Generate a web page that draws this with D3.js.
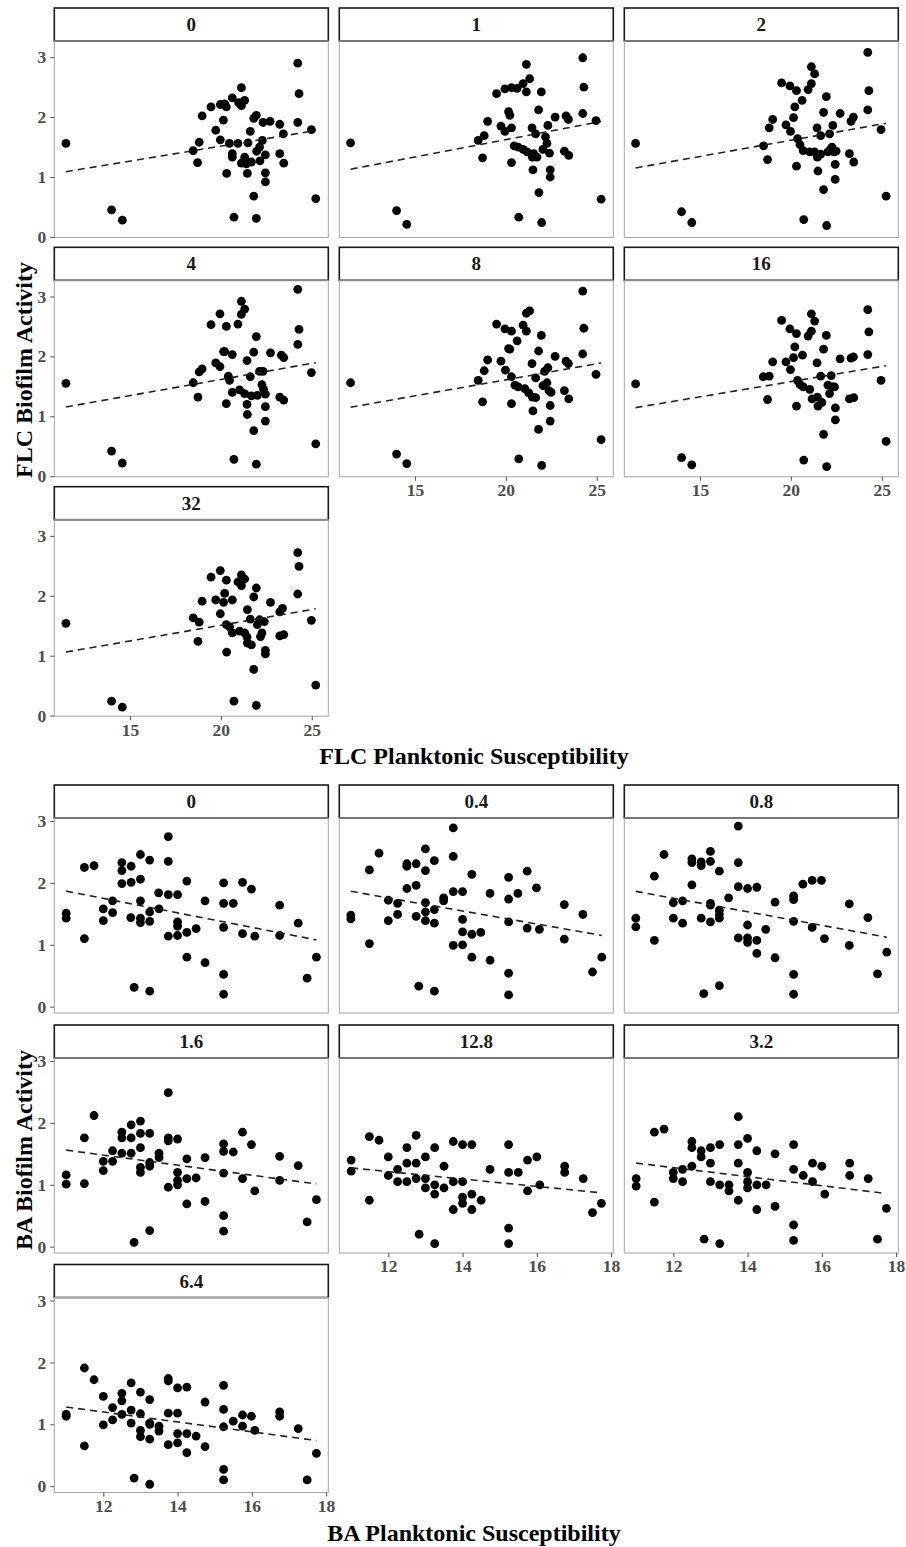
<!DOCTYPE html>
<html><head><meta charset="utf-8">
<script src="https://cdn.jsdelivr.net/npm/d3@7"></script>
<style>body{margin:0;background:#fff}svg{display:block}</style>
</head><body>
<script>
// ---------- DATA ----------
const flcLabels = ["0","1","2","4","8","16","32"];
const baLabels = ["0","0.4","0.8","1.6","12.8","3.2","6.4"];
const flcXTicks = [15,20,25];
const baXTicks = [12,14,16,18];
const yTicks = [0,1,2,3];

const flc_0 = [[11.48,1.56],[13.99,0.45],[14.58,0.28],[18.48,1.44],[18.72,1.24],[18.81,1.58],[18.97,2.02],[19.46,2.17],[19.72,1.78],[19.97,2.21],[19.97,1.62],[20.14,1.95],[20.21,2.22],[20.3,2.17],[20.32,1.06],[20.47,1.56],[20.63,2.32],[20.63,1.39],[20.63,1.33],[20.72,0.33],[20.94,1.56],[20.98,2.24],[21.13,2.49],[21.13,2.19],[21.13,1.23],[21.31,2.28],[21.31,1.33],[21.4,1.22],[21.46,1.06],[21.49,1.57],[21.62,1.76],[21.68,1.25],[21.81,0.68],[21.81,1.98],[21.95,2.03],[21.95,0.31],[21.97,1.43],[22.13,1.5],[22.15,1.27],[22.28,1.61],[22.32,1.91],[22.45,1.37],[22.45,1.07],[22.45,0.92],[22.71,1.93],[23.24,1.88],[23.24,1.39],[23.44,1.72],[23.46,1.23],[24.23,2.9],[24.3,2.39],[24.23,1.91],[24.98,1.79],[25.22,0.64]];
const flc_1 = [[11.46,1.57],[13.99,0.44],[14.55,0.21],[18.48,1.61],[18.72,1.32],[18.81,1.69],[19.0,1.93],[19.49,2.39],[19.73,1.85],[19.95,2.47],[19.95,1.76],[20.15,2.09],[20.22,2.03],[20.31,2.49],[20.31,1.82],[20.31,1.24],[20.46,1.52],[20.62,2.48],[20.68,1.5],[20.71,0.33],[20.95,2.56],[20.95,1.46],[21.13,2.88],[21.13,2.42],[21.17,1.42],[21.31,2.64],[21.44,1.82],[21.46,1.33],[21.49,1.12],[21.53,1.39],[21.64,1.72],[21.71,1.33],[21.8,2.12],[21.82,0.74],[21.95,2.42],[21.97,0.24],[22.04,1.46],[22.18,1.67],[22.26,1.56],[22.31,1.86],[22.4,1.4],[22.44,1.12],[22.44,1.0],[22.71,2.0],[23.22,1.43],[23.31,2.02],[23.44,1.96],[23.46,1.36],[24.23,2.99],[24.29,2.5],[24.23,2.06],[24.96,1.94],[25.24,0.63]];
const flc_2 = [[11.46,1.56],[13.99,0.42],[14.55,0.24],[18.5,1.52],[18.72,1.29],[18.81,1.82],[19.0,1.96],[19.49,2.57],[19.73,1.87],[19.95,2.52],[19.98,1.76],[20.15,1.99],[20.22,2.17],[20.31,2.44],[20.31,1.18],[20.37,1.64],[20.5,1.54],[20.62,2.28],[20.68,1.44],[20.71,0.29],[20.95,2.46],[21.04,1.42],[21.13,2.84],[21.13,2.56],[21.31,2.72],[21.31,1.42],[21.44,1.82],[21.46,1.33],[21.49,1.1],[21.64,1.69],[21.64,1.38],[21.8,2.08],[21.8,0.79],[21.95,2.34],[21.97,0.19],[22.04,1.42],[22.13,1.72],[22.18,1.46],[22.26,1.5],[22.31,1.86],[22.37,1.42],[22.44,1.21],[22.44,0.96],[22.49,1.43],[22.71,2.06],[23.22,1.39],[23.31,1.93],[23.44,2.0],[23.46,1.25],[24.23,3.08],[24.29,2.44],[24.23,2.12],[24.96,1.79],[25.24,0.68]];
const flc_4 = [[11.48,1.55],[13.99,0.42],[14.58,0.22],[18.48,1.56],[18.74,1.32],[18.81,1.74],[18.97,1.79],[19.46,2.53],[19.72,1.89],[19.95,2.71],[19.95,1.83],[20.15,2.08],[20.21,2.08],[20.3,2.5],[20.3,1.21],[20.41,1.67],[20.48,1.6],[20.63,2.03],[20.63,1.4],[20.72,0.28],[20.94,2.54],[21.03,1.44],[21.13,2.92],[21.13,2.7],[21.31,2.79],[21.31,1.38],[21.44,1.93],[21.44,1.2],[21.46,1.03],[21.62,1.66],[21.68,1.34],[21.81,2.07],[21.81,0.76],[21.95,2.33],[21.95,0.2],[22.01,1.35],[22.13,1.75],[22.26,1.53],[22.32,1.75],[22.35,1.45],[22.45,1.37],[22.45,1.16],[22.45,0.92],[22.73,2.06],[23.24,1.32],[23.33,2.02],[23.46,1.27],[23.46,1.98],[24.23,3.12],[24.3,2.45],[24.23,2.2],[24.98,1.73],[25.22,0.54]];
const flc_8 = [[11.46,1.56],[13.99,0.37],[14.55,0.21],[18.48,1.6],[18.72,1.24],[18.81,1.76],[19.0,1.94],[19.49,2.54],[19.73,1.92],[19.95,2.46],[19.98,1.77],[20.15,2.13],[20.22,2.12],[20.31,2.42],[20.31,1.21],[20.31,1.66],[20.5,1.52],[20.62,2.26],[20.68,1.49],[20.71,0.29],[20.95,2.52],[21.04,1.46],[21.13,2.72],[21.13,2.42],[21.31,2.76],[21.26,1.39],[21.44,1.88],[21.46,1.32],[21.49,1.09],[21.64,1.64],[21.64,1.31],[21.8,2.09],[21.8,0.78],[21.95,2.35],[21.97,0.18],[22.04,1.51],[22.13,1.75],[22.31,1.81],[22.26,1.56],[22.37,1.43],[22.44,1.18],[22.44,0.92],[22.49,1.4],[22.71,2.0],[23.22,1.43],[23.31,1.92],[23.44,1.88],[23.46,1.29],[24.23,3.09],[24.29,2.47],[24.23,2.04],[24.96,1.7],[25.24,0.61]];
const flc_16 = [[11.46,1.54],[13.99,0.31],[14.55,0.19],[18.48,1.66],[18.72,1.28],[18.81,1.67],[19.0,1.91],[19.49,2.6],[19.73,1.91],[19.95,2.46],[19.98,1.78],[20.15,1.98],[20.22,2.16],[20.31,2.38],[20.31,1.17],[20.37,1.6],[20.5,1.53],[20.64,2.02],[20.68,1.49],[20.71,0.27],[20.95,2.34],[21.04,1.45],[21.13,2.71],[21.13,2.42],[21.31,2.59],[21.17,1.29],[21.44,1.89],[21.46,1.32],[21.49,1.17],[21.64,1.67],[21.71,1.23],[21.8,2.12],[21.8,0.7],[21.95,2.35],[21.97,0.16],[22.04,1.52],[22.13,1.38],[22.22,1.68],[22.31,1.49],[22.4,1.49],[22.45,1.14],[22.45,0.94],[22.71,1.96],[23.22,1.29],[23.31,1.97],[23.44,1.99],[23.46,1.31],[24.23,2.78],[24.29,2.41],[24.23,2.03],[24.96,1.6],[25.24,0.58]];
const flc_32 = [[11.48,1.54],[13.99,0.24],[14.58,0.14],[18.48,1.63],[18.74,1.24],[18.81,1.56],[18.97,1.91],[19.46,2.31],[19.72,1.93],[19.97,2.42],[19.97,1.7],[20.15,1.89],[20.21,2.04],[20.3,2.26],[20.32,1.06],[20.3,1.52],[20.48,1.48],[20.63,1.93],[20.63,1.38],[20.72,0.24],[20.94,2.23],[21.03,1.41],[21.13,2.35],[21.13,2.17],[21.31,2.28],[21.31,1.38],[21.46,1.77],[21.44,1.31],[21.46,1.21],[21.62,1.61],[21.68,1.18],[21.81,1.98],[21.81,0.77],[21.95,2.13],[21.95,0.17],[22.01,1.52],[22.13,1.6],[22.18,1.32],[22.26,1.38],[22.39,1.57],[22.45,1.09],[22.45,1.03],[22.73,1.89],[23.24,1.73],[23.24,1.33],[23.39,1.79],[23.46,1.35],[24.23,2.72],[24.3,2.49],[24.23,2.03],[24.98,1.59],[25.22,0.51]];

const ba_0 = [[11.0,1.51],[11.0,1.43],[11.49,2.25],[11.49,1.1],[11.75,2.28],[12.0,1.58],[12.0,1.39],[12.25,1.71],[12.25,1.52],[12.5,2.33],[12.5,2.2],[12.5,1.99],[12.75,2.27],[12.75,2.01],[12.74,1.44],[12.83,0.31],[13.0,2.46],[13.0,2.06],[13.0,1.71],[13.0,1.43],[13.0,1.36],[13.25,2.37],[13.25,1.53],[13.25,1.38],[13.25,0.25],[13.49,1.84],[13.5,1.58],[13.75,2.75],[13.75,2.35],[13.75,1.81],[13.75,1.14],[14.0,1.81],[14.0,1.37],[14.0,1.3],[14.0,1.15],[14.25,2.03],[14.25,1.2],[14.25,0.8],[14.5,1.26],[14.74,1.71],[14.74,0.71],[15.24,2.0],[15.24,1.67],[15.24,1.28],[15.24,0.52],[15.24,0.2],[15.5,1.67],[15.75,2.01],[15.75,1.18],[15.99,1.9],[16.08,1.14],[16.75,1.64],[16.75,1.15],[17.25,1.35],[17.49,0.46],[17.74,0.8]];
const ba_04 = [[10.99,1.48],[10.99,1.42],[11.49,2.21],[11.49,1.02],[11.75,2.48],[12.0,1.72],[12.0,1.39],[12.25,1.67],[12.25,1.49],[12.5,2.31],[12.5,2.27],[12.5,1.91],[12.75,2.31],[12.75,1.96],[12.75,1.46],[12.82,0.33],[13.0,2.55],[13.0,2.2],[13.0,1.68],[13.0,1.53],[13.0,1.39],[13.24,2.36],[13.24,1.57],[13.24,1.35],[13.24,0.25],[13.49,1.76],[13.49,1.71],[13.75,2.89],[13.75,2.43],[13.75,1.86],[13.75,0.99],[14.0,1.86],[14.0,1.41],[14.0,1.21],[14.0,1.0],[14.25,2.14],[14.25,1.17],[14.25,0.8],[14.49,1.2],[14.74,1.83],[14.74,0.75],[15.24,2.09],[15.24,1.74],[15.24,1.37],[15.24,0.54],[15.24,0.19],[15.49,1.83],[15.74,2.19],[15.74,1.27],[15.99,1.92],[16.07,1.25],[16.74,1.65],[16.74,1.09],[17.24,1.49],[17.5,0.56],[17.75,0.8]];
const ba_08 = [[10.99,1.43],[10.99,1.29],[11.49,2.11],[11.49,1.07],[11.75,2.46],[12.0,1.68],[12.0,1.43],[12.25,1.71],[12.25,1.35],[12.5,2.39],[12.5,2.33],[12.5,1.97],[12.75,2.34],[12.75,2.28],[12.75,1.43],[12.82,0.21],[13.0,2.51],[13.0,2.35],[13.0,1.67],[13.0,1.64],[13.0,1.37],[13.24,2.19],[13.24,1.56],[13.24,1.49],[13.24,1.43],[13.24,0.34],[13.49,1.76],[13.75,2.92],[13.75,2.33],[13.75,1.94],[13.75,1.11],[14.0,1.91],[14.0,1.32],[14.0,1.11],[14.0,1.04],[14.25,1.93],[14.25,1.07],[14.25,0.86],[14.49,1.25],[14.74,1.69],[14.74,0.79],[15.24,1.79],[15.24,1.73],[15.24,1.38],[15.24,0.52],[15.24,0.2],[15.49,1.98],[15.74,2.04],[15.74,1.28],[15.99,2.04],[16.07,1.1],[16.74,1.66],[16.74,0.99],[17.24,1.44],[17.5,0.53],[17.75,0.88]];
const ba_16 = [[11.0,1.16],[11.0,1.01],[11.49,1.76],[11.49,1.02],[11.75,2.12],[12.0,1.38],[12.0,1.23],[12.25,1.55],[12.25,1.38],[12.5,1.85],[12.5,1.76],[12.5,1.51],[12.75,1.97],[12.75,1.76],[12.75,1.51],[12.83,0.07],[13.0,2.03],[13.0,1.83],[13.0,1.6],[13.0,1.28],[13.0,1.2],[13.25,1.83],[13.25,1.36],[13.25,1.3],[13.25,0.26],[13.5,1.51],[13.5,1.44],[13.75,2.49],[13.75,1.76],[13.75,1.71],[13.75,0.96],[14.0,1.74],[14.0,1.2],[14.0,1.07],[14.0,1.0],[14.25,1.42],[14.25,1.1],[14.25,0.69],[14.5,1.11],[14.74,1.44],[14.74,0.73],[15.24,1.66],[15.24,1.54],[15.24,1.19],[15.24,0.5],[15.24,0.25],[15.5,1.53],[15.75,1.85],[15.75,1.1],[15.99,1.65],[16.08,0.9],[16.75,1.46],[16.75,1.07],[17.25,1.31],[17.49,0.4],[17.74,0.76]];
const ba_128 = [[11.0,1.4],[11.0,1.22],[11.49,1.78],[11.49,0.75],[11.75,1.72],[12.0,1.45],[12.0,1.15],[12.25,1.25],[12.25,1.05],[12.5,1.6],[12.5,1.35],[12.5,1.05],[12.75,1.8],[12.75,1.35],[12.75,1.1],[12.83,0.2],[13.0,1.45],[13.0,1.1],[13.0,0.95],[13.25,1.6],[13.25,1.0],[13.25,0.85],[13.25,0.05],[13.5,1.3],[13.5,0.95],[13.75,1.7],[13.75,1.05],[13.75,0.6],[14.0,1.65],[14.0,1.05],[14.0,0.8],[14.0,0.7],[14.25,1.65],[14.25,0.85],[14.25,0.6],[14.5,0.75],[14.74,1.25],[15.24,1.65],[15.24,1.2],[15.24,0.3],[15.24,0.05],[15.5,1.2],[15.75,1.4],[15.75,0.9],[16.0,1.45],[16.08,1.0],[16.75,1.3],[16.75,1.2],[17.25,1.1],[17.5,0.55],[17.74,0.7]];
const ba_32 = [[11.0,1.1],[11.0,0.98],[11.49,1.85],[11.49,0.72],[11.75,1.9],[12.0,1.2],[12.0,1.1],[12.25,1.25],[12.25,1.05],[12.5,1.7],[12.5,1.6],[12.5,1.3],[12.75,1.55],[12.75,1.45],[12.83,0.12],[13.0,1.6],[13.0,1.35],[13.0,1.05],[13.25,1.65],[13.25,1.0],[13.25,0.05],[13.5,1.0],[13.5,0.9],[13.75,2.1],[13.75,1.65],[13.75,1.35],[13.75,0.75],[14.0,1.75],[14.0,1.2],[14.0,1.05],[14.0,0.95],[14.25,1.55],[14.25,1.0],[14.25,0.6],[14.5,1.0],[14.74,1.5],[14.74,0.65],[15.24,1.65],[15.24,1.25],[15.24,0.35],[15.24,0.1],[15.5,1.15],[15.75,1.35],[15.75,1.05],[16.0,1.3],[16.08,0.85],[16.75,1.35],[16.75,1.15],[17.25,1.1],[17.5,0.12],[17.74,0.62]];
const ba_64 = [[11.0,1.16],[11.0,1.13],[11.49,1.91],[11.49,0.65],[11.75,1.72],[12.0,1.45],[12.0,0.99],[12.25,1.27],[12.25,1.07],[12.5,1.5],[12.5,1.38],[12.5,1.16],[12.75,1.67],[12.75,1.23],[12.75,1.02],[12.83,0.13],[13.0,1.52],[13.0,1.17],[13.0,0.9],[13.0,0.8],[13.25,1.4],[13.25,1.02],[13.25,1.0],[13.25,0.76],[13.25,0.03],[13.5,0.97],[13.5,0.89],[13.75,1.74],[13.75,1.7],[13.75,1.18],[13.75,0.67],[14.0,1.59],[14.0,1.18],[14.0,0.85],[14.0,0.7],[14.25,1.6],[14.25,0.85],[14.25,0.54],[14.5,0.81],[14.74,1.36],[14.74,0.64],[15.24,1.63],[15.24,1.24],[15.24,0.96],[15.24,0.27],[15.24,0.1],[15.5,1.05],[15.75,1.15],[15.75,0.97],[15.99,1.13],[16.08,0.9],[16.75,1.2],[16.75,1.13],[17.25,0.93],[17.49,0.1],[17.74,0.53]];

const flcSeries = [flc_0, flc_1, flc_2, flc_4, flc_8, flc_16, flc_32];
const baSeries = [ba_0, ba_04, ba_08, ba_16, ba_128, ba_32, ba_64];

// ---------- LAYOUT ----------
const W = 906, H = 1547;
const svg = d3.select("body").append("svg").attr("width", W).attr("height", H);
const FONT = "'Liberation Serif','Times New Roman',serif";
const colLeft = [54.3, 339.3, 624.3];
const panelW = 274;
const stripH = 33;

const groups = [
  { labels: flcLabels, series: flcSeries, xDomain: [10.84, 25.91], yDomain: [-0.01, 3.27], xTicks: flcXTicks,
    rowTop: [8, 247.3, 486.7], plotH: 196.5, xTitle: "FLC Planktonic Susceptibility", yTitle: "FLC Biofilm Activity",
    xTitleX: 474, xTitleY: 764, yTitleX: 32, yTitleY: 370 },
  { labels: baLabels, series: baSeries, xDomain: [10.68, 18.06], yDomain: [-0.103, 3.05], xTicks: baXTicks,
    rowTop: [785, 1025, 1264.5], plotH: 195, xTitle: "BA Planktonic Susceptibility", yTitle: "BA Biofilm Activity",
    xTitleX: 474, xTitleY: 1541, yTitleX: 32, yTitleY: 1150 }
];

groups.forEach(g => {
  const x = d3.scaleLinear().domain(g.xDomain).range([0, panelW]);
  const y = d3.scaleLinear().domain(g.yDomain).range([g.plotH, 0]);
  g.labels.forEach((lab, i) => {
    const row = Math.floor(i / 3), col = i % 3;
    const left = colLeft[col], top = g.rowTop[row];
    const pg = svg.append("g").attr("transform", `translate(${left},${top})`);
    // strip
    pg.append("rect").attr("x", 0).attr("y", 0).attr("width", panelW).attr("height", stripH)
      .attr("fill", "#fff").attr("stroke", "#1a1a1a").attr("stroke-width", 1.6);
    pg.append("text").attr("x", panelW / 2).attr("y", stripH / 2 + 6.5)
      .attr("text-anchor", "middle").attr("font-family", FONT).attr("font-weight", "bold")
      .attr("font-size", 19).attr("fill", "#1a1a1a").text(lab);
    const plot = pg.append("g").attr("transform", `translate(0,${stripH})`);
    // panel border
    plot.append("rect").attr("x", 0).attr("y", 0).attr("width", panelW).attr("height", g.plotH)
      .attr("fill", "none").attr("stroke", "#a6a6a6").attr("stroke-width", 1);
    const data = g.series[i];
    // points
    plot.selectAll("circle").data(data).enter().append("circle")
      .attr("cx", d => x(d[0])).attr("cy", d => y(d[1])).attr("r", 4.4).attr("fill", "#000");
    // regression line (least squares)
    const mx = d3.mean(data, d => d[0]), my = d3.mean(data, d => d[1]);
    const sxy = d3.sum(data, d => (d[0] - mx) * (d[1] - my));
    const sxx = d3.sum(data, d => (d[0] - mx) ** 2);
    const b = sxy / sxx, a = my - b * mx;
    const [x0, x1] = d3.extent(data, d => d[0]);
    plot.append("line").attr("x1", x(x0)).attr("y1", y(a + b * x0)).attr("x2", x(x1)).attr("y2", y(a + b * x1))
      .attr("stroke", "#222").attr("stroke-width", 1.6).attr("stroke-dasharray", "7,5");
    // y axis on first column
    if (col === 0) {
      const ya = plot.append("g").call(d3.axisLeft(y).tickValues(yTicks).tickFormat(d3.format("d")).tickSizeOuter(0).tickSize(4).tickPadding(4));
      ya.select(".domain").remove();
      ya.selectAll("line").attr("stroke", "#4d4d4d");
      ya.selectAll("text").attr("font-family", FONT).attr("font-weight", "bold").attr("font-size", 17.5).attr("fill", "#4d4d4d");
    }
    // x axis on bottom panel of each column
    const n = g.labels.length;
    const isBottom = (i + 3 >= n);
    if (isBottom) {
      const xa = plot.append("g").attr("transform", `translate(0,${g.plotH})`)
        .call(d3.axisBottom(x).tickValues(g.xTicks).tickFormat(d3.format("d")).tickSizeOuter(0).tickSize(4).tickPadding(3));
      xa.select(".domain").remove();
      xa.selectAll("line").attr("stroke", "#4d4d4d");
      xa.selectAll("text").attr("font-family", FONT).attr("font-weight", "bold").attr("font-size", 17.5).attr("fill", "#4d4d4d");
    }
  });
  svg.append("text").attr("x", g.xTitleX).attr("y", g.xTitleY).attr("text-anchor", "middle")
    .attr("font-family", FONT).attr("font-weight", "bold").attr("font-size", 24).attr("fill", "#000").text(g.xTitle);
  svg.append("text").attr("transform", `translate(${g.yTitleX},${g.yTitleY}) rotate(-90)`).attr("text-anchor", "middle")
    .attr("font-family", FONT).attr("font-weight", "bold").attr("font-size", 24).attr("fill", "#000").text(g.yTitle);
});
</script>
</body></html>
